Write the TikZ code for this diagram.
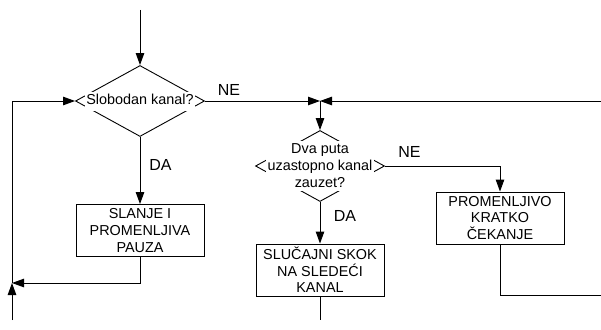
\documentclass[tikz,border=0pt]{standalone}
\usepackage{fontspec}
\setmainfont{Liberation Sans}
\usetikzlibrary{shapes.geometric,arrows.meta}
\begin{document}
\begin{tikzpicture}[x=1pt,y=-1pt,
  line width=0.9pt,
  arr/.style={-{Triangle[length=12pt,width=8.5pt]}},
  dia/.style={shape=diamond,draw,minimum width=129pt,minimum height=71pt,inner sep=0pt},
  dtext/.style={fill=white,inner xsep=1.5pt,inner ysep=3pt,align=center,font=\fontsize{14.4}{17}\selectfont},
  procbox/.style={draw,fill=white,minimum width=128pt,minimum height=52pt,align=center,font=\fontsize{14.4}{16.7}\selectfont,inner sep=0pt},
  lab/.style={font=\fontsize{16}{18}\selectfont,inner sep=0pt}]
\useasboundingbox (0,0) rectangle (601,329);
% decisions
\node[dia] (d1) at (140,101) {};
\node[dtext,text height=11pt,text depth=4pt,inner ysep=2pt] (t1) at (140,101) {Slobodan kanal?};
\node[dia] (d2) at (320,166) {};
\node[dtext] (t2) at (320,166) {Dva puta\\uzastopno kanal\\zauzet?};
% processes
\node[procbox] (b1) at (140,230.5) {SLANJE I\\PROMENLJIVA\\PAUZA};
\node[procbox] (b2) at (320,270) {SLUČAJNI SKOK\\NA SLEDEĆI\\KANAL};
\node[procbox] (b3) at (500,218) {PROMENLJIVO\\KRATKO\\ČEKANJE};
% labels
\node[lab] (ne1) at (229,90) {NE};
\node[lab] (da1) at (160.5,164.5) {DA};
\node[lab] (ne2) at (409.5,152) {NE};
\node[lab] (da2) at (345,215.5) {DA};
% free ends and junctions
\coordinate (top) at (140,10);
\coordinate (jl) at (12,283);
\coordinate (bl) at (12,320);
\coordinate (jr) at (320,101);
\coordinate (re) at (601,101);
\coordinate (rb) at (601,295);
\coordinate (b2end) at (320,320);
% connectors
\draw[arr] (top) -- (d1.north);
\draw[arr] (d1.east) -- (jr);
\draw[arr] (re) -- (jr);
\draw[arr] (jr) -- (d2.north);
\draw[arr] (d1.south) -- (b1.north);
\draw[arr] (b1.south) |- (jl);
\draw[arr] (bl) -- (jl);
\draw[arr] (jl) |- (d1.west);
\draw[arr] (d2.east) -| (b3.north);
\draw[arr] (d2.south) -- (b2.north);
\draw (b2.south) -- (b2end);
\draw (b3.south) |- (rb);
\end{tikzpicture}
\end{document}
